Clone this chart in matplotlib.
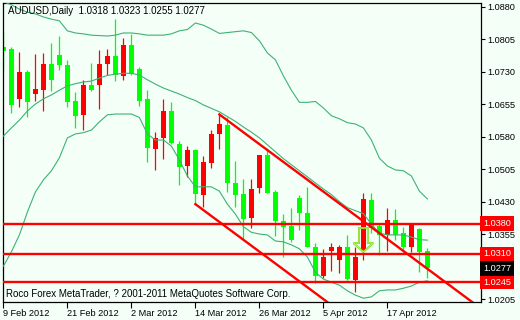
import numpy as np
import matplotlib
matplotlib.use('Agg')
import matplotlib.pyplot as plt
import matplotlib.transforms as mtransforms
from matplotlib.patches import Polygon

plt.rcParams['font.family'] = ['Liberation Sans', 'DejaVu Sans']

# daily AUDUSD candles, 9 Feb 2012 .. 24 Apr 2012
opens = [1.0788, 1.0783, 1.0668, 1.0730, 1.0679, 1.0688, 1.0748, 1.0769, 1.0746, 1.0663,
         1.0631, 1.0700, 1.0700, 1.0748, 1.0767, 1.0721, 1.0792, 1.0737, 1.0668, 1.0552,
         1.0578, 1.0640, 1.0564, 1.0513, 1.0550, 1.0446, 1.0521, 1.0587, 1.0608, 1.0473,
         1.0448, 1.0392, 1.0463, 1.0538, 1.0452, 1.0387, 1.0375, 1.0439, 1.0405, 1.0327,
         1.0260, 1.0318, 1.0295, 1.0325, 1.0250, 1.0316, 1.0435, 1.0375, 1.0354, 1.0388,
         1.0359, 1.0327, 1.0368, 1.0318]
highs = [1.0823, 1.0787, 1.0775, 1.0735, 1.0772, 1.0773, 1.0796, 1.0813, 1.0758, 1.0683,
         1.0712, 1.0751, 1.0781, 1.0783, 1.0852, 1.0808, 1.0817, 1.0742, 1.0688, 1.0592,
         1.0668, 1.0660, 1.0571, 1.0560, 1.0552, 1.0536, 1.0596, 1.0632, 1.0627, 1.0525,
         1.0482, 1.0482, 1.0538, 1.0554, 1.0458, 1.0402, 1.0415, 1.0445, 1.0464, 1.0335,
         1.0321, 1.0335, 1.0331, 1.0354, 1.0325, 1.0450, 1.0450, 1.0379, 1.0415, 1.0413,
         1.0372, 1.0381, 1.0369, 1.0323]
lows = [1.0735, 1.0635, 1.0650, 1.0625, 1.0664, 1.0641, 1.0685, 1.0735, 1.0650, 1.0601,
        1.0595, 1.0685, 1.0645, 1.0723, 1.0710, 1.0712, 1.0723, 1.0652, 1.0523, 1.0504,
        1.0529, 1.0564, 1.0469, 1.0488, 1.0425, 1.0419, 1.0508, 1.0552, 1.0454, 1.0419,
        1.0342, 1.0369, 1.0450, 1.0450, 1.0352, 1.0304, 1.0338, 1.0365, 1.0327, 1.0242,
        1.0254, 1.0271, 1.0265, 1.0250, 1.0223, 1.0296, 1.0359, 1.0308, 1.0318, 1.0342,
        1.0315, 1.0315, 1.0269, 1.0255]
closes = [1.0779, 1.0654, 1.0731, 1.0660, 1.0691, 1.0748, 1.0712, 1.0746, 1.0661, 1.0629,
          1.0700, 1.0688, 1.0748, 1.0767, 1.0723, 1.0792, 1.0725, 1.0664, 1.0554, 1.0578,
          1.0640, 1.0565, 1.0511, 1.0550, 1.0448, 1.0523, 1.0587, 1.0610, 1.0473, 1.0446,
          1.0390, 1.0460, 1.0538, 1.0450, 1.0387, 1.0373, 1.0342, 1.0405, 1.0327, 1.0260,
          1.0304, 1.0325, 1.0325, 1.0252, 1.0304, 1.0437, 1.0369, 1.0354, 1.0388, 1.0354,
          1.0327, 1.0379, 1.0315, 1.0277]

# Bollinger bands (20)
bb_upper = [1.0892, 1.0885, 1.0875, 1.0868, 1.0864, 1.0857, 1.0852, 1.0848, 1.0825, 1.0820,
            1.0818, 1.0815, 1.0814, 1.0813, 1.0815, 1.0820, 1.0820, 1.0818, 1.0815, 1.0815,
            1.0815, 1.0818, 1.0825, 1.0828, 1.0843, 1.0838, 1.0829, 1.0819, 1.0821, 1.0823,
            1.0825, 1.0821, 1.0802, 1.0774, 1.0758, 1.0721, 1.0688, 1.0660, 1.0660, 1.0662,
            1.0647, 1.0629, 1.0622, 1.0613, 1.0610, 1.0601, 1.0573, 1.0531, 1.0513, 1.0504,
            1.0502, 1.0490, 1.0455, 1.0437]
bb_middle = [1.0582, 1.0601, 1.0619, 1.0640, 1.0656, 1.0668, 1.0677, 1.0688, 1.0698, 1.0703,
             1.0707, 1.0709, 1.0716, 1.0722, 1.0725, 1.0727, 1.0727, 1.0723, 1.0712, 1.0702,
             1.0693, 1.0686, 1.0679, 1.0671, 1.0664, 1.0654, 1.0646, 1.0638, 1.0627, 1.0616,
             1.0603, 1.0591, 1.0578, 1.0562, 1.0546, 1.0530, 1.0516, 1.0502, 1.0488, 1.0474,
             1.0460, 1.0447, 1.0431, 1.0417, 1.0410, 1.0403, 1.0379, 1.0358, 1.0354, 1.0354,
             1.0354, 1.0349, 1.0343, 1.0342]
bb_lower = [1.0282, 1.0315, 1.0354, 1.0407, 1.0453, 1.0481, 1.0502, 1.0532, 1.0578, 1.0587,
            1.0590, 1.0596, 1.0615, 1.0631, 1.0633, 1.0633, 1.0633, 1.0625, 1.0587, 1.0573,
            1.0573, 1.0559, 1.0527, 1.0490, 1.0465, 1.0465, 1.0465, 1.0455, 1.0425, 1.0402,
            1.0373, 1.0360, 1.0356, 1.0354, 1.0340, 1.0338, 1.0331, 1.0322, 1.0303, 1.0268,
            1.0252, 1.0245, 1.0238, 1.0225, 1.0215, 1.0208, 1.0211, 1.0225, 1.0227, 1.0227,
            1.0231, 1.0236, 1.0245, 1.0248]

levels = [1.0380, 1.0310, 1.0245]
last_price = 1.0277

# channel: start bar, start price, drop per bar
chan_upper = (27, 1.0632)
chan_lower = (24, 1.0425)
chan_slope = -0.00137

arrow_bar = 45
arrow_top = 1.0370
arrow_tip = 1.0315

date_pos = [0, 8, 16, 24, 32, 40, 48]
date_labels = ['9 Feb 2012', '21 Feb 2012', '2 Mar 2012', '14 Mar 2012',
               '26 Mar 2012', '5 Apr 2012', '17 Apr 2012']
price_ticks = [1.0880, 1.0805, 1.0730, 1.0655, 1.0580, 1.0505, 1.0430, 1.0355, 1.0280, 1.0205]

bg = '#F4FFF8'
band_col = '#3CB371'

fig = plt.figure(figsize=(5.2, 3.2), dpi=100, facecolor=bg)
ax = fig.add_axes([3/520, 18/320, 478/520, 299/320], facecolor=bg)

idx = np.arange(len(opens))
o = np.array(opens); c = np.array(closes)
cols = np.where(c < o, '#00FF00', '#FF0000')

ax.vlines(idx, lows, highs, colors=cols, lw=0.9, zorder=2)
body = np.maximum(np.abs(c - o), 0.00015)
ax.bar(idx, body, bottom=np.minimum(o, c), width=0.62, color=cols, edgecolor='none', zorder=2)

for band in (bb_upper, bb_middle, bb_lower):
    ax.plot(idx, band, color=band_col, lw=0.8, zorder=3)

for lv in levels:
    ax.axhline(lv, color='#FF0000', lw=1.7, zorder=4)

xe = 70
for (b0, p0) in (chan_upper, chan_lower):
    ax.plot([b0, xe], [p0, p0 + chan_slope * (xe - b0)], color='#FF0000', lw=1.7, zorder=4)

# hollow down arrow
hd = arrow_tip + (arrow_top - arrow_tip) * 0.37
pts = [(arrow_bar - 0.55, arrow_top), (arrow_bar + 0.55, arrow_top), (arrow_bar + 0.55, hd),
       (arrow_bar + 1.25, hd), (arrow_bar, arrow_tip), (arrow_bar - 1.25, hd), (arrow_bar - 0.55, hd)]
ax.add_patch(Polygon(pts, closed=True, fill=False, ec='#66DD22', lw=1.4, zorder=5))
ax.add_patch(Polygon(pts, closed=True, fill=False, ec='#EEEE55', lw=0.5, zorder=5))

ax.set_xlim(-0.05, 59.7)
ax.set_ylim(1.01992, 1.08892)

ax.yaxis.tick_right()
ax.set_yticks(price_ticks)
# the 1.0280 label sits under the last-price box
ax.set_yticklabels(['' if abs(t - last_price) < 0.001 else '%.4f' % t for t in price_ticks])
ax.set_xticks(date_pos)
ax.set_xticklabels(date_labels, ha='left')
ax.tick_params(axis='y', length=3, width=0.8, pad=1.5, labelsize=6.6, colors='black')
ax.tick_params(axis='x', length=4, width=0.8, pad=1, labelsize=6.6, colors='black')
for s in ax.spines.values():
    s.set_color('black')
    s.set_linewidth(0.9)

tr = mtransforms.blended_transform_factory(ax.transAxes, ax.transData)
for lv in levels:
    ax.text(1.004, lv, '%.4f' % lv, transform=tr, ha='left', va='center', fontsize=6.6,
            color='white', clip_on=False, zorder=6,
            bbox=dict(boxstyle='square,pad=0.3', fc='#FF0000', ec='none'))
ax.text(1.004, last_price, '%.4f' % last_price, transform=tr, ha='left', va='center',
        fontsize=6.6, color='white', clip_on=False, zorder=6,
        bbox=dict(boxstyle='square,pad=0.3', fc='black', ec='none'))

ax.text(0.0105, 0.99, 'AUDUSD,Daily  %.4f %.4f %.4f %.4f' % (opens[-1], highs[-1], lows[-1], closes[-1]),
        transform=ax.transAxes, ha='left', va='top', fontsize=7, color='black', zorder=6)
ax.text(0.006, 0.027, 'Roco Forex MetaTrader, ? 2001-2011 MetaQuotes Software Corp.',
        transform=ax.transAxes, ha='left', va='center', fontsize=7, color='black', zorder=6)

fig.savefig('out.png', dpi=100, facecolor=bg)
